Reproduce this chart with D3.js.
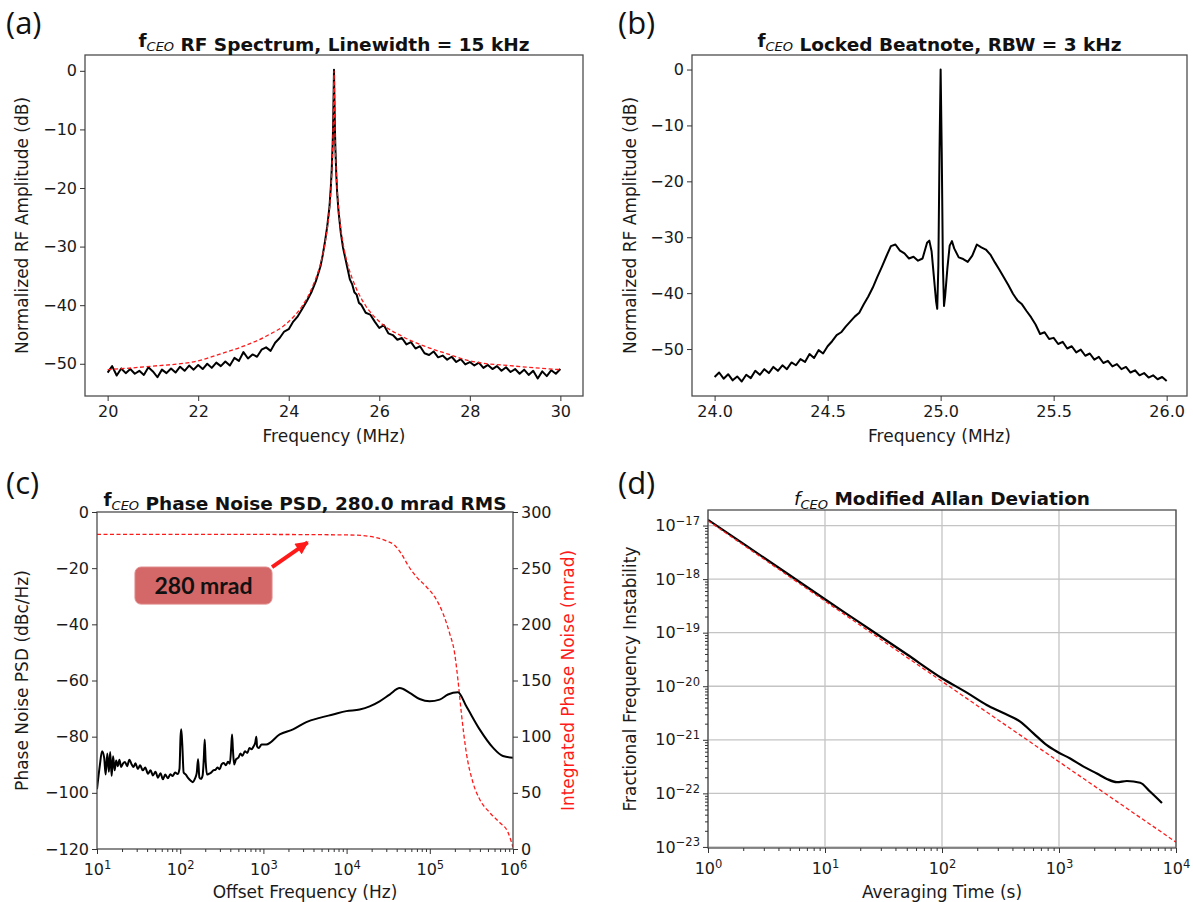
<!DOCTYPE html>
<html><head><meta charset="utf-8">
<script src="https://cdn.jsdelivr.net/npm/d3@7"></script>
<style>body{margin:0;background:#fff}svg{display:block}</style>
</head><body>
<svg id="c" width="1193" height="902"></svg>
<script>
// ================= DATA =================
// (a) fCEO RF spectrum
const aFreq=[20.0,20.1,20.2,20.3,20.4,20.5,20.6,20.7,20.8,20.9,21.0,21.1,21.2,21.3,21.4,21.5,21.6,21.7,21.8,21.9,22.0,22.1,22.2,22.3,22.4,22.5,22.6,22.7,22.8,22.9,23.0,23.1,23.2,23.3,23.4,23.5,23.6,23.7,23.8,23.9,24.0,24.1,24.2,24.3,24.4,
24.5,24.6,24.7,24.75,24.8,24.85,24.9,24.93,24.95,24.97,24.98,24.99,25.0,25.01,25.02,25.03,25.05,25.07,25.1,25.15,25.2,25.25,25.3,25.35,25.4,25.45,25.5,25.55,
25.6,25.7,25.8,25.9,26.0,26.1,26.2,26.3,26.4,26.5,26.6,26.7,26.8,26.9,27.0,27.1,27.2,27.3,27.4,27.5,27.6,27.7,27.8,27.9,28.0,28.1,28.2,28.3,28.4,28.5,28.6,28.7,28.8,28.9,29.0,29.1,29.2,29.3,29.4,29.5,29.6,29.7,29.8,29.9,30.0];
const aAmp=[-51.5,-50.4,-52.0,-50.8,-51.6,-50.9,-51.7,-51.2,-51.9,-50.6,-51.3,-52.3,-51.0,-51.6,-50.8,-51.5,-50.5,-51.2,-50.3,-51.0,-50.2,-50.9,-50.0,-50.7,-49.8,-50.4,-49.6,-50.3,-49.0,-49.5,-48.0,-49.1,-48.4,-48.8,-47.6,-47.2,-47.8,-46.4,-45.6,-44.5,-44.1,-42.8,-41.9,-40.6,-39.3,
-37.8,-35.9,-33.4,-31.5,-29.2,-26.6,-23.2,-19.8,-16.8,-12.6,-9.6,-4.6,0.2,-4.9,-9.8,-13.0,-17.6,-20.8,-24.0,-27.6,-30.2,-32.0,-33.8,-35.6,-36.4,-37.8,-38.2,-39.6,
-39.9,-41.3,-41.6,-42.8,-43.9,-43.4,-44.8,-45.1,-45.9,-45.6,-46.7,-46.3,-47.4,-47.0,-48.2,-48.5,-47.9,-48.9,-48.6,-49.3,-48.8,-49.7,-49.2,-50.1,-49.7,-50.3,-49.8,-50.7,-50.2,-50.9,-50.4,-51.2,-50.6,-51.4,-50.9,-51.7,-51.0,-51.9,-51.2,-52.5,-51.3,-52.1,-51.1,-51.7,-50.9];
const aFitFreq=[20,21,22,22.5,23,23.5,24,24.3,24.5,24.6,24.7,24.8,24.85,24.9,24.93,24.95,24.97,24.98,24.99,24.995,25,25.005,25.01,25.02,25.03,25.05,25.07,25.1,25.15,25.2,25.3,25.4,25.5,25.7,26,26.5,27,27.5,28,29,30];
const aFitAmp=[-51.0,-50.4,-49.5,-48.3,-47.0,-45.3,-42.8,-40.1,-37.3,-35.4,-33.0,-29.5,-27.0,-23.5,-20.4,-17.5,-13.2,-10.0,-5.1,-1.9,0,-1.9,-5.1,-10.0,-13.2,-17.5,-20.4,-23.5,-27.0,-29.5,-33.0,-35.4,-37.3,-40.1,-42.8,-45.3,-47.0,-48.3,-49.5,-50.4,-51.0];
const aXTicks=[20,22,24,26,28,30];
const aYTicks=[0,-10,-20,-30,-40,-50];

// (b) fCEO locked beatnote
const bFreq=[24.00,24.02,24.04,24.06,24.08,24.10,24.12,24.14,24.16,24.18,24.20,24.22,24.24,24.26,24.28,24.30,24.32,24.34,24.36,24.38,24.40,24.42,24.44,24.46,24.48,24.50,24.52,24.54,24.56,24.58,24.60,24.62,24.64,24.66,24.68,24.70,24.72,24.74,24.76,24.78,24.80,24.82,24.84,24.86,24.88,24.90,24.92,24.94,
24.95,24.96,24.97,24.98,24.985,24.99,24.995,25.0,25.005,25.01,25.015,25.02,25.03,25.04,25.05,25.06,
25.08,25.10,25.12,25.14,25.16,25.18,25.20,25.22,25.24,25.26,25.28,25.30,25.32,25.34,25.36,25.38,25.40,25.42,25.44,25.46,25.48,25.50,25.52,25.54,25.56,25.58,25.60,25.62,25.64,25.66,25.68,25.70,25.72,25.74,25.76,25.78,25.80,25.82,25.84,25.86,25.88,25.90,25.92,25.94,25.96,25.98,26.00];
const bAmp=[-55.0,-54.2,-55.3,-54.5,-55.6,-54.9,-55.8,-54.6,-55.2,-53.9,-54.6,-53.6,-54.3,-53.2,-53.9,-52.9,-53.6,-52.4,-52.9,-51.8,-52.3,-50.9,-51.6,-50.2,-50.8,-49.5,-48.6,-47.5,-47.0,-46.0,-45.1,-44.2,-43.5,-42.0,-40.6,-39.0,-37.1,-35.3,-33.4,-31.6,-31.3,-32.4,-32.9,-33.8,-33.5,-34.2,-33.8,-31.0,
-30.6,-32.5,-37.0,-41.5,-42.8,-35.0,-15.0,0.0,-15.0,-35.0,-42.3,-40.5,-35.5,-31.5,-30.7,-32.0,
-33.6,-33.9,-34.4,-33.3,-31.3,-31.8,-32.2,-33.1,-34.5,-35.8,-37.2,-38.6,-40.1,-41.3,-42.0,-43.2,-44.3,-45.6,-47.3,-47.0,-48.2,-48.0,-49.1,-48.7,-49.9,-49.5,-50.6,-50.1,-51.2,-50.8,-51.9,-51.4,-52.5,-52.1,-53.1,-52.7,-53.6,-53.2,-54.2,-53.8,-54.7,-54.3,-55.1,-54.7,-55.4,-55.0,-55.7];
const bXTicks=[24.0,24.5,25.0,25.5,26.0];
const bYTicks=[0,-10,-20,-30,-40,-50];

// (c) phase noise PSD and integrated phase noise
const cFreq=[10,10.8,11.5,12.2,12.7,13.3,13.9,14.4,15.0,15.6,16.3,17.0,17.8,18.6,19.5,20.5,21.7,23.0,24.5,26.0,27.5,29.0,31.0,33.0,35.5,38.0,41.0,44.0,47.0,50.5,54.0,58.0,62.0,66.0,71.0,76.0,81.0,87.0,93.0,98.0,101,103,106,110,117,125,133,142,150,158,164,170,178,186,192,197,202,210,222,235,250,265,280,298,315,335,355,375,395,410,420,430,445,470,500,530,560,600,640,680,720,760,800,822,840,880,950,1085,1570,2270,3280,4740,6870,9930,14350,18920,24950,32890,43450,57280,75510,99540,131200,165200,217800,274800,397200,574100,756800,1000000];
const cPsd=[-98.7,-90.4,-85.2,-87.5,-93.5,-86.0,-92.5,-85.5,-94.0,-87.0,-92.0,-88.5,-90.5,-88.2,-90.8,-89.6,-89.0,-90.5,-88.2,-89.8,-90.8,-89.5,-91.5,-90.2,-92.0,-91.0,-93.2,-92.0,-93.8,-92.5,-94.6,-93.0,-95.2,-93.5,-94.8,-93.4,-94.0,-92.8,-93.3,-91.5,-80.0,-77.4,-83.0,-92.8,-93.5,-94.8,-95.6,-96.2,-95.0,-93.0,-88.0,-94.5,-95.0,-93.8,-88.0,-81.0,-88.5,-93.5,-93.2,-92.8,-92.0,-91.8,-91.0,-91.6,-89.8,-89.4,-90.2,-88.9,-89.6,-84.0,-79.2,-84.5,-89.9,-88.0,-87.5,-86.0,-86.8,-85.2,-85.8,-84.0,-84.5,-83.5,-82.0,-80.0,-83.5,-84.0,-82.8,-82.8,-79.2,-77.4,-74.8,-73.3,-72.1,-70.9,-70.3,-69.2,-67.4,-65.0,-62.7,-64.4,-66.6,-67.4,-66.8,-65.0,-64.2,-69.2,-77.4,-83.9,-86.9,-87.5];
const cIntFreq=[10,100,1000,10000,15740,22750,29990,37760,45390,54580,68870,90780,114300,143900,173000,198600,217800,239300,274800,330400,397200,523600,690200,871000,1000000];
const cIntMrad=[280,280,280,279.6,279,277.2,274.3,270.4,263,252.7,242.4,233.5,224.6,209.8,192.1,174.4,150.7,121.2,85.7,59.1,44.3,32.5,23.6,14.8,1.5];
const cXTicks=[1e1,1e2,1e3,1e4,1e5,1e6];
const cYTicks=[0,-20,-40,-60,-80,-100,-120];
const cY2Ticks=[0,50,100,150,200,250,300];
const cNote={text:"280 mrad", boxF:[28.6,1270], boxM:[218,251], tailF:1270, tailM:251, tipF:3400, tipM:273};

// (d) modified Allan deviation
const dTau=[1,2,5,10,20,50,100,163,241,335,466,605,787,957,1247,1622,2109,2564,3126,3802,4943,6026,7586];
const dDev=[1.28e-17,4.6e-18,1.18e-18,4.2e-19,1.52e-19,3.95e-20,1.41e-20,7.6e-21,4.47e-21,3.16e-21,2.19e-21,1.32e-21,7.94e-22,6.03e-22,4.47e-22,3.16e-22,2.34e-22,1.86e-22,1.62e-22,1.70e-22,1.58e-22,1.07e-22,6.6e-23];
const dFitTau=[1,1e4];
const dFitDev=[1.23e-17,1.23e-23];
const dXTicks=[1,10,100,1000,10000];
const dYTicks=[1e-23,1e-22,1e-21,1e-20,1e-19,1e-18,1e-17];

// ================= DRAWING =================
const FONT="DejaVu Sans";
const svg=d3.select("#c");
const defs=svg.append("defs");
const RED="#ff1a1a";

function clip(id,P){defs.append("clipPath").attr("id",id).append("rect").attr("x",P.l).attr("y",P.t).attr("width",P.r-P.l).attr("height",P.b-P.t);}
function frame(P){svg.append("rect").attr("x",P.l).attr("y",P.t).attr("width",P.r-P.l).attr("height",P.b-P.t).attr("fill","none").attr("stroke","#4d4d4d").attr("stroke-width",1.3);}
function styleAxis(g){g.attr("font-family",FONT).attr("font-size",16);g.select(".domain").remove();g.selectAll(".tick line").attr("stroke","#333").attr("stroke-width",1);g.selectAll(".tick text").attr("fill","#1a1a1a");return g;}
function sup(g){g.selectAll(".tick text").each(function(d){const t=d3.select(this);t.text(null);t.append("tspan").text("10");t.append("tspan").attr("dy","-0.55em").attr("font-size","0.72em").text(d3.format("d")(Math.round(Math.log10(d))));});}
function title(P,y,parts){const t=svg.append("text").attr("x",(P.l+P.r)/2).attr("y",y).attr("text-anchor","middle").attr("font-family",FONT).attr("font-size",18.5).attr("font-weight","bold").attr("fill","#111");
  parts.forEach(p=>{const s=t.append("tspan").text(p.t);if(p.w)s.attr("font-weight",p.w);if(p.s)s.attr("font-style",p.s);if(p.fs)s.attr("font-size",p.fs);if(p.dy)s.attr("dy",p.dy);});}
function xlabel(P,y,txt){svg.append("text").attr("x",(P.l+P.r)/2).attr("y",y).attr("text-anchor","middle").attr("font-family",FONT).attr("font-size",17).attr("fill","#1a1a1a").text(txt);}
function ylabel(x,P,txt,col){svg.append("text").attr("transform",`translate(${x},${(P.t+P.b)/2}) rotate(-90)`).attr("text-anchor","middle").attr("font-family",FONT).attr("font-size",17).attr("fill",col||"#1a1a1a").text(txt);}
function panelLabel(x,y,txt){svg.append("text").attr("x",x).attr("y",y).attr("font-family","Open Sans").attr("font-size",31).attr("fill","#111").text(txt);}
function isMajor(v){const l=Math.log10(v);return Math.abs(l-Math.round(l))<1e-6;}
const fCEO=[{t:"f"},{t:"CEO",w:"normal",s:"italic",fs:13,dy:4},{t:"",dy:-4}];

// ---------- (a) ----------
const A={l:85,t:55,r:583,b:396};
const xA=d3.scaleLinear().domain([19.5,30.5]).range([A.l,A.r]);
const yA=d3.scaleLinear().domain([-55.5,2.7]).range([A.b,A.t]);
clip("clipA",A);
const gA=svg.append("g").attr("clip-path","url(#clipA)");
gA.append("path").datum(d3.zip(aFreq,aAmp)).attr("fill","none").attr("stroke","#000").attr("stroke-width",2).attr("stroke-linejoin","round")
  .attr("d",d3.line().x(d=>xA(d[0])).y(d=>yA(d[1])));
gA.append("path").datum(d3.zip(aFitFreq,aFitAmp)).attr("fill","none").attr("stroke",RED).attr("stroke-width",1.3).attr("stroke-dasharray","4,2.5")
  .attr("d",d3.line().curve(d3.curveMonotoneX).x(d=>xA(d[0])).y(d=>yA(d[1])));
frame(A);
styleAxis(svg.append("g").attr("transform",`translate(0,${A.b})`).call(d3.axisBottom(xA).tickValues(aXTicks).tickSize(5).tickPadding(5).tickFormat(d3.format("d"))));
styleAxis(svg.append("g").attr("transform",`translate(${A.l},0)`).call(d3.axisLeft(yA).tickValues(aYTicks).tickSize(5).tickPadding(3).tickFormat(d3.format("d"))));
title(A,47,fCEO.concat([{t:" RF Spectrum, Linewidth = 15 kHz"}]));
xlabel(A,442,"Frequency (MHz)");
ylabel(28,A,"Normalized RF Amplitude (dB)");
panelLabel(6,34,"(a)");

// ---------- (b) ----------
const B={l:692,t:55,r:1187,b:396};
const xB=d3.scaleLinear().domain([23.9,26.09]).range([B.l,B.r]);
const yB=d3.scaleLinear().domain([-58.4,2.6]).range([B.b,B.t]);
clip("clipB",B);
const gB=svg.append("g").attr("clip-path","url(#clipB)");
gB.append("path").datum(d3.zip(bFreq,bAmp)).attr("fill","none").attr("stroke","#000").attr("stroke-width",2).attr("stroke-linejoin","round")
  .attr("d",d3.line().x(d=>xB(d[0])).y(d=>yB(d[1])));
frame(B);
styleAxis(svg.append("g").attr("transform",`translate(0,${B.b})`).call(d3.axisBottom(xB).tickValues(bXTicks).tickSize(5).tickPadding(5).tickFormat(d3.format(".1f"))));
styleAxis(svg.append("g").attr("transform",`translate(${B.l},0)`).call(d3.axisLeft(yB).tickValues(bYTicks).tickSize(5).tickPadding(3).tickFormat(d3.format("d"))));
title(B,47,fCEO.concat([{t:" Locked Beatnote, RBW = 3 kHz"}]));
xlabel(B,442,"Frequency (MHz)");
ylabel(636,B,"Normalized RF Amplitude (dB)");
panelLabel(618,34,"(b)");

// ---------- (c) ----------
const C={l:97,t:512,r:513,b:849};
const xC=d3.scaleLog().domain([10,1e6]).range([C.l,C.r]);
const yC=d3.scaleLinear().domain([-120,0]).range([C.b,C.t]);
const yC2=d3.scaleLinear().domain([0,300]).range([C.b,C.t]);
clip("clipC",C);
const gC=svg.append("g").attr("clip-path","url(#clipC)");
gC.append("path").datum(d3.zip(cIntFreq,cIntMrad)).attr("fill","none").attr("stroke",RED).attr("stroke-width",1.3).attr("stroke-dasharray","4,2.5")
  .attr("d",d3.line().curve(d3.curveMonotoneX).x(d=>xC(d[0])).y(d=>yC2(d[1])));
gC.append("path").datum(d3.zip(cFreq,cPsd)).attr("fill","none").attr("stroke","#000").attr("stroke-width",2).attr("stroke-linejoin","round")
  .attr("d",d3.line().curve(d3.curveMonotoneX).x(d=>xC(d[0])).y(d=>yC(d[1])));
frame(C);
styleAxis(svg.append("g").attr("transform",`translate(0,${C.b})`).call(d3.axisBottom(xC).tickValues(xC.ticks().filter(v=>!isMajor(v))).tickSize(3).tickFormat("")));
const cx=styleAxis(svg.append("g").attr("transform",`translate(0,${C.b})`).call(d3.axisBottom(xC).tickValues(cXTicks).tickSize(5).tickPadding(10)));
sup(cx);
styleAxis(svg.append("g").attr("transform",`translate(${C.l},0)`).call(d3.axisLeft(yC).tickValues(cYTicks).tickSize(5).tickPadding(3).tickFormat(d3.format("d"))));
styleAxis(svg.append("g").attr("transform",`translate(${C.r},0)`).call(d3.axisRight(yC2).tickValues(cY2Ticks).tickSize(5).tickPadding(3).tickFormat(d3.format("d"))));
title(C,506,fCEO.concat([{t:" Phase Noise PSD, 280.0 mrad RMS"}]));
xlabel(C,898,"Offset Frequency (Hz)");
ylabel(28,C,"Phase Noise PSD (dBc/Hz)");
ylabel(574,C,"Integrated Phase Noise (mrad)",RED);
panelLabel(6,494,"(c)");
// annotation
defs.append("marker").attr("id","arr").attr("viewBox","0 0 10 10").attr("refX",9).attr("refY",5).attr("markerUnits","userSpaceOnUse")
  .attr("markerWidth",15).attr("markerHeight",13).attr("orient","auto").append("path").attr("d","M0,0 L10,5 L0,10 z").attr("fill",RED);
svg.append("line").attr("x1",xC(cNote.tailF)).attr("y1",yC2(cNote.tailM)).attr("x2",xC(cNote.tipF)).attr("y2",yC2(cNote.tipM))
  .attr("stroke",RED).attr("stroke-width",4).attr("marker-end","url(#arr)");
svg.append("rect").attr("x",xC(cNote.boxF[0])).attr("y",yC2(cNote.boxM[1])).attr("width",xC(cNote.boxF[1])-xC(cNote.boxF[0])).attr("height",yC2(cNote.boxM[0])-yC2(cNote.boxM[1]))
  .attr("rx",6).attr("fill","#d46767").attr("stroke","#e08a8a").attr("stroke-width",1);
svg.append("text").attr("x",(xC(cNote.boxF[0])+xC(cNote.boxF[1]))/2).attr("y",(yC2(cNote.boxM[0])+yC2(cNote.boxM[1]))/2+8).attr("text-anchor","middle")
  .attr("font-family","Lato").attr("font-weight","bold").attr("font-size",23).attr("fill","#111").text(cNote.text);

// ---------- (d) ----------
const D={l:708,t:510,r:1176,b:848};
const xD=d3.scaleLog().domain([1,1e4]).range([D.l,D.r]);
const yD=d3.scaleLog().domain([Math.pow(10,-23.02),Math.pow(10,-16.71)]).range([D.b,D.t]);
clip("clipD",D);
const grid=svg.append("g");
grid.selectAll("line.v").data(dXTicks).join("line").attr("x1",d=>xD(d)).attr("x2",d=>xD(d)).attr("y1",D.t).attr("y2",D.b).attr("stroke","#c4c4c4").attr("stroke-width",1.3);
grid.selectAll("line.h").data(dYTicks).join("line").attr("y1",d=>yD(d)).attr("y2",d=>yD(d)).attr("x1",D.l).attr("x2",D.r).attr("stroke","#c4c4c4").attr("stroke-width",1.3);
const gD=svg.append("g").attr("clip-path","url(#clipD)");
gD.append("path").datum(d3.zip(dTau,dDev)).attr("fill","none").attr("stroke","#000").attr("stroke-width",2.2).attr("stroke-linejoin","round")
  .attr("d",d3.line().curve(d3.curveMonotoneX).x(d=>xD(d[0])).y(d=>yD(d[1])));
gD.append("path").datum(d3.zip(dFitTau,dFitDev)).attr("fill","none").attr("stroke",RED).attr("stroke-width",1.3).attr("stroke-dasharray","4,2.5")
  .attr("d",d3.line().x(d=>xD(d[0])).y(d=>yD(d[1])));
frame(D);
styleAxis(svg.append("g").attr("transform",`translate(0,${D.b})`).call(d3.axisBottom(xD).tickValues(xD.ticks().filter(v=>!isMajor(v))).tickSize(3).tickFormat("")));
const dx=styleAxis(svg.append("g").attr("transform",`translate(0,${D.b})`).call(d3.axisBottom(xD).tickValues(dXTicks).tickSize(5).tickPadding(10)));
sup(dx);
styleAxis(svg.append("g").attr("transform",`translate(${D.l},0)`).call(d3.axisLeft(yD).tickValues(yD.ticks().filter(v=>!isMajor(v))).tickSize(3).tickFormat("")));
const dy=styleAxis(svg.append("g").attr("transform",`translate(${D.l},0)`).call(d3.axisLeft(yD).tickValues(dYTicks).tickSize(5).tickPadding(3)));
sup(dy);
title(D,505,[{t:"f",w:"normal",s:"italic"},{t:"CEO",w:"normal",s:"italic",fs:13,dy:4},{t:" Modified Allan Deviation",dy:-4}]);
xlabel(D,898,"Averaging Time (s)");
ylabel(636,D,"Fractional Frequency Instability");
panelLabel(618,494,"(d)");
</script>
</body></html>
